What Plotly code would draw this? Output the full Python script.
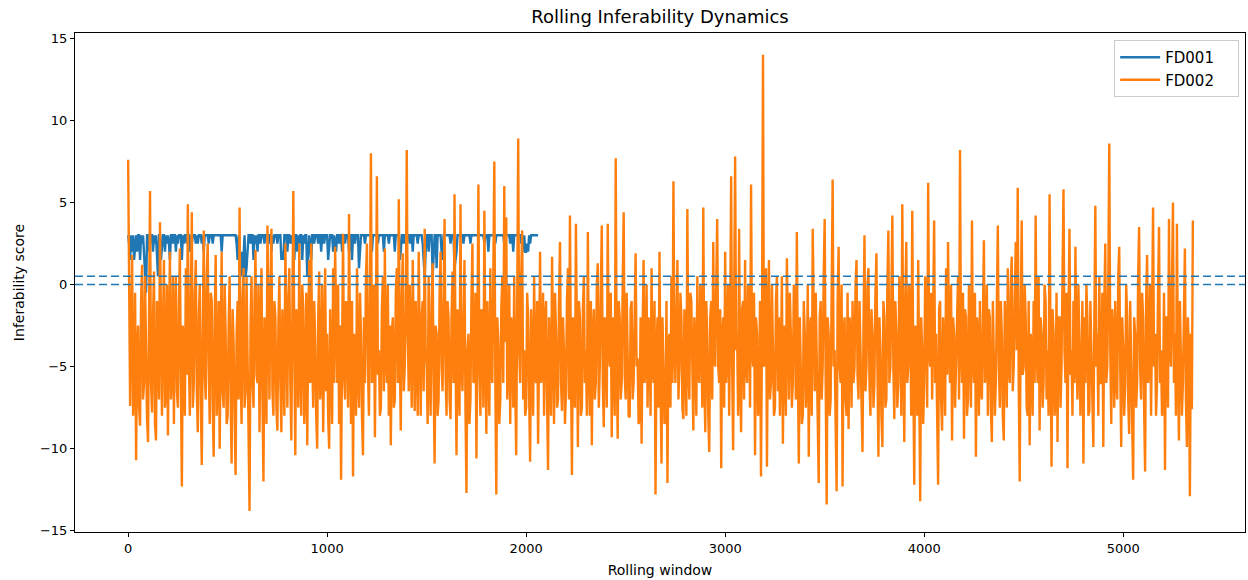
import numpy as np
import plotly.graph_objects as go

# sampling of the rolling windows for each series
STEP_FD001 = 5
STEP_FD002 = 5

# FD001 score per sampled window (windows 0..2060), one row per 100 windows
fd001 = [
    3, 2.5, 1.5, 3, 2, 3, 1.5, 2.5, 3, 2, 3, 3, 1.5, 3, 2.5, 3, 2, 1, -0.5, 3,
    3, 2, 2.5, 3, 3, 2, 3, 2.5, 3, 2, 0.5, 3, 3, 1.5, 2.5, 3, 3, 2, 3, 2.5,
    3, 2.5, 1.5, 3, 3, 2.5, 3, 3, 2, 3, 2.5, 3, 3, 3, 1.5, 3, 2.5, 3, 3, 2.5,
    3, 3, 2, 3, 2.5, 3, 3, 3, 2.5, 3, 2.5, 3, 3, 3, 2.5, 3, 2, 3, 3, 3,
    3, 2.5, 3, 3, 3, 2.5, 3, 3, 3, 3, 3, 3, 3, 3, 2, 3, 3, 3, 3, 3,
    3, 3, 3, 3, 3, 3, 3, 3, 3, 2.5, 1.5, 3, 1, 0.5, 2, 0.5, 1.5, 3, 0.5, 1,
    2, 3, 3, 2.5, 3, 3, 1.5, 3, 2.5, 3, 2, 3, 3, 2.5, 3, 3, 3, 2.5, 3, 3,
    3, 2.5, 3, 3, 2, 3, 2.5, 3, 3, 3, 2.5, 3, 3, 3, 1.5, 2, 1.5, 3, 3, 3,
    2, 3, 3, 2.5, 3, 2.5, 3, 1.5, 3, 3, 2, 3, 2.5, 3, 3, 1.5, 3, 2.5, 3, 3,
    0.5, 1.5, 3, 2.5, 1.5, 3, 3, 2.5, 3, 3, 3, 2.5, 3, 3, 2, 3, 3, 2.5, 3, 3,
    3, 1.5, 2.5, 3, 3, 3, 2, 3, 2.5, 2, 3, 3, 2.5, 3, 3, 2, 3, 3, 2.5, 3,
    3, 3, 2, 3, 3, 1.5, 3, 3, 2.5, 3, 3, 3, 1, 2.5, 3, 3, 3, 3, 2.5, 3,
    3, 3, 3, 3, 3, 2, 3, 3, 3, 3, 3, 2.5, 3, 3, 3, 3, 3, 2, 3, 3,
    3, 3, 2.5, 3, 3, 3, 3, 3, 2, 3, 3, 3, 3, 1.5, 2, 3, 3, 2.5, 3, 3,
    3, 3, 3, 2.5, 3, 3, 2, 3, 3, 3, 3, 2.5, 3, 3, 3, 3, 2.5, 1.5, 0.5, 2,
    3, 3, 2, 3, 3, 3, 0.5, 1.5, 3, 3, 1, 3, 3, 3, 3, 2, 1.5, 3, 3, 3,
    3, 3, 3, 3, 2.5, 3, 3, 3, 1, 1.5, 2, 3, 3, 3, 3, 3, 3, 2.5, 3, 3,
    3, 3, 3, 3, 2.5, 3, 3, 3, 3, 3, 3, 3, 3, 3, 3, 3, 3, 3, 2.5, 3,
    3, 3, 2, 3, 3, 3, 3, 3, 3, 2.5, 3, 3, 3, 3, 3, 3, 3, 3, 2.5, 3,
    3, 3, 3, 3, 2.5, 3, 3, 2, 3, 3, 3, 3, 3, 3, 3, 2.5, 3, 2, 3, 2,
    2, 2.5, 2, 3, 2.5, 3, 3, 3, 3, 3, 3, 3, 3,
]

# FD002 score per sampled window (windows 0..5350), one row per 100 windows
fd002 = [
    7.6, -2.0, -7.4, -3.0, 1.8, -8.0, -6.5, -0.5, -10.7, -4.0, -2.5, -7.5, -8.6, -1.0, 1.2, -7.0, -6.0, 0.5, -4.5, -8.2,
    -9.6, -1.5, 5.7, -6.0, -7.8, -2.0, 0.8, -8.5, -9.5, -1.0, -3.2, -7.0, 3.8, -5.0, -8.0, -2.5, 1.5, -7.5, -6.5, 0.0,
    -9.2, -3.0, 2.0, -7.0, -5.5, 0.5, -8.5, -2.0, 0.5, -6.5, -7.5, -1.5, 2.2, -6.0, -12.3, -2.5, -4.0, -8.0, 1.0, -5.5,
    4.9, -4.5, -8.0, -1.0, 4.4, -7.5, -6.0, -0.5, 1.5, -6.5, -9.0, -2.0, 0.0, -7.0, -11.0, -3.0, 3.3, -5.5, -7.0, 0.5,
    2.5, -5.0, -8.5, -0.5, -1.0, -7.5, -10.5, -2.0, 1.8, -8.0, -6.0, -1.0, -10.0, -4.0, 2.0, -6.5, -7.5, 0.0, -3.0, -8.5,
    -8.0, -2.5, 0.5, -7.0, -10.9, -1.5, -3.5, -8.0, -11.6, -3.0, -1.0, -7.0, 4.7, -5.0, -8.5, -1.0, 1.0, -7.5, -6.5, 0.5,
    -5.0, -9.0, -13.8, -2.5, 0.5, -6.0, -7.5, -1.0, 2.1, -5.5, -6.0, 0.0, -9.0, -3.0, 1.0, -7.0, -12.0, -2.0, -4.5, -8.5,
    3.6, -4.0, -7.0, -0.5, 3.4, -6.5, -8.0, -1.0, -2.0, -7.5, -8.9, -2.5, 0.5, -6.0, -9.0, -1.5, -4.0, -8.0, 2.5, -5.0,
    -7.5, -1.0, 1.0, -6.0, -9.5, -2.0, 5.7, -4.0, -10.4, -1.5, -3.0, -7.5, 2.5, -5.0, -8.0, 0.0, -1.5, -8.5, -6.5, -0.5,
    -9.8, -3.0, 1.5, -6.0, 2.5, -4.5, -7.5, -1.0, -3.5, -8.0, -10.0, -2.0, 0.8, -7.0, -6.0, 0.0, -9.0, -4.0, 1.0, -6.5,
    -3.0, -8.0, -10.0, -1.5, -5.0, -8.5, 1.0, -6.0, 2.3, -4.0, -6.0, 0.0, -8.5, -2.5, -11.9, -4.0, 3.1, -5.5, -7.0, -1.0,
    -2.0, -7.5, 4.3, -4.0, -8.5, -1.0, -11.7, -3.0, -4.0, -8.0, 1.0, -5.5, -7.5, -0.5, -3.0, -8.0, -10.4, -2.0, -6.0, 0.5,
    2.5, -5.0, -8.0, -1.0, 8.0, -6.0, -5.0, 0.0, -9.3, -2.0, 6.6, -5.5, -4.0, -8.0, -7.5, -1.5, 0.5, -6.5, 2.2, -4.5,
    -6.0, 0.0, -8.0, -2.5, -9.8, -3.0, -2.0, -7.5, -7.0, -0.5, 1.0, -6.0, 5.2, -4.0, -8.9, -1.0, 1.9, -6.5, -5.0, -1.5,
    8.2, -3.0, -6.5, 0.0, -3.0, -7.5, 1.5, -5.0, -7.7, -1.0, -4.5, -8.0, 2.0, -4.0, -8.0, -2.0, -1.0, -6.5, 3.4, -4.0,
    -5.0, -8.5, 0.5, -5.5, -8.0, -1.0, 1.3, -6.0, -10.9, -2.5, -3.0, -8.0, -7.0, -0.5, 2.0, -5.0, -6.5, -1.0, 4.0, -5.5,
    -8.0, -1.0, -2.0, -7.0, -8.2, -2.0, 0.8, -6.0, 5.5, -4.0, -10.4, -1.5, -4.0, -8.0, 4.9, -5.0, -6.5, -0.5, 1.5, -7.5,
    -12.7, -4.0, -3.0, -8.5, -7.0, -1.0, 2.5, -6.0, -5.5, -0.5, -10.6, -3.0, 6.1, -5.0, -8.0, -1.5, -2.0, -7.5, 4.5, -4.0,
    -9.1, -1.0, -4.0, -8.0, 1.0, -5.0, -6.0, 0.0, 7.5, -6.0, -12.8, -2.0, -3.5, -8.5, -7.0, -1.5, 0.5, -6.0, 6.0, -3.5,
    4.1, -7.0, -5.0, 0.0, -8.5, -2.0, -3.0, -7.5, 0.5, -6.0, -10.4, -1.0, 8.9, -4.0, -6.0, 0.5, 3.3, -7.0, -4.0, -8.0,
    -7.5, -0.5, -2.0, -7.0, -10.8, -1.5, -4.0, -8.0, 0.5, -5.5, -6.0, -1.0, -9.7, -3.0, 2.0, -6.0, -5.0, -0.5, -8.0, -2.0,
    -1.0, -7.0, -11.3, -2.0, -6.0, -8.0, 1.7, -4.5, -8.5, -0.5, -3.0, -7.5, -7.0, -1.0, 2.6, -6.0, -7.7, -2.0, -4.0, -8.5,
    -6.5, -1.0, 1.0, -7.0, 4.2, -5.0, -11.6, -2.0, -5.0, -7.5, 3.7, -4.0, -9.9, -1.0, -2.0, -8.0, -7.5, -1.5, 0.5, -6.0,
    -4.0, -8.0, 3.2, -5.0, -8.0, -1.0, -9.8, -3.0, -1.5, -7.0, -6.0, 0.0, 1.3, -7.5, -5.0, -0.5, 3.6, -6.0, -8.7, -2.0,
    -3.0, -7.5, 3.7, -4.0, -5.0, -0.5, -9.3, -2.0, -4.0, -8.0, 7.7, -5.0, -9.4, -1.0, -2.0, -7.0, -6.0, 0.0, 4.4, -5.5,
    -7.0, -0.5, -3.5, -8.0, -8.1, -1.5, -1.0, -7.0, -6.0, 0.0, 1.9, -5.0, -4.5, -8.5, -8.0, -2.0, -9.7, -3.0, 1.5, -6.0,
    -5.0, 0.0, -7.5, -2.0, -3.0, -8.0, 1.0, -5.0, -6.0, -1.0, -12.8, -4.0, -2.0, -7.5, 2.0, -6.0, -10.9, -2.0, -5.5, -8.5,
    -8.0, -1.0, -12.1, -3.5, -3.0, -7.5, 0.5, -6.0, 6.3, -4.0, -6.0, 0.0, 1.5, -7.0, -5.0, -0.5, -2.0, -7.5, -8.2, -1.5,
    -4.0, -8.0, 4.6, -5.0, -7.0, -0.5, -1.0, -7.0, -8.9, -2.0, -3.5, -8.0, 0.5, -5.0, -6.0, 0.0, -2.5, -7.5, 4.7, -5.5,
    -9.0, -1.0, -3.0, -8.0, -10.2, -2.0, -1.0, -7.0, 2.6, -4.5, -5.0, 0.0, 4.0, -5.0, -6.0, -1.5, -11.2, -3.0, -2.0, -7.5,
    2.0, -6.0, -4.0, 0.0, -8.0, -2.0, 6.6, -5.0, -10.1, -1.0, 7.8, -4.0, -3.0, -8.0, 3.4, -5.5, -9.0, -1.5, -1.0, -7.0,
    1.5, -5.0, -6.0, 0.0, -2.0, -7.5, 6.1, -4.0, -5.0, -0.5, -10.4, -2.0, -3.0, -8.0, -7.0, -1.0, -11.7, -3.0, 14.0, -5.0,
    -4.0, 1.0, -11.1, -2.0, 1.5, -7.0, -6.0, 0.0, -3.0, -8.0, -7.5, -1.0, 0.5, -6.5, -2.0, -8.0, -5.0, 0.5, -9.7, -2.5,
    -4.0, -8.0, 1.6, -4.5, -7.0, -0.5, -3.0, -7.5, -6.0, 0.0, -1.0, -7.0, 3.2, -5.0, -10.9, -2.0, -5.0, -8.5, -8.0, -1.0,
    -3.0, -7.5, -6.0, 0.0, -10.5, -3.0, -2.0, -8.0, 3.4, -4.0, -6.5, -0.5, -4.0, -8.0, -12.1, -2.0, -1.0, -7.0, -5.0, 0.5,
    4.0, -6.0, -13.4, -2.0, -3.0, -8.0, -7.0, -0.5, 6.4, -5.0, -4.0, -8.5, -12.6, -1.0, 2.3, -5.0, -6.0, 0.0, -12.3, -3.0,
    -2.0, -7.0, -8.0, -0.5, -8.8, -2.0, -3.0, -7.5, -1.0, -6.0, -5.0, 0.0, 1.5, -5.5, -7.0, -1.0, -4.0, -8.0, -10.2, -2.5,
    3.0, -6.5, -5.0, 0.0, 1.0, -6.0, -8.0, -1.5, -3.0, -7.5, -6.0, -0.5, 1.9, -5.0, -10.5, -2.0, -4.0, -8.0, -9.9, -1.0,
    -2.0, -7.5, -7.0, 0.0, 3.3, -6.0, -5.0, -0.5, 4.2, -5.0, -8.2, -1.0, -3.0, -7.5, -6.0, 0.5, -2.0, -8.0, 4.9, -4.0,
    -9.6, -1.0, 2.6, -6.0, -5.0, 0.0, -2.0, -8.0, 4.5, -5.0, -12.2, -2.5, -3.0, -8.0, 1.5, -6.0, -13.2, -2.0, -4.0, -8.5,
    -6.0, 0.5, -2.0, -7.5, 6.2, -4.0, -5.0, -0.5, -7.0, -2.0, 3.9, -6.0, -3.0, -8.0, -12.2, -1.5, -1.0, -7.0, -8.9, -2.0,
    -4.0, -8.0, 1.0, -5.5, 2.6, -4.0, -6.0, 0.0, -9.5, -2.0, -3.0, -7.5, -5.0, -1.0, 0.5, -7.0, 8.2, -4.0, -6.0, -0.5,
    -9.4, -1.5, -2.0, -8.0, -7.0, 0.0, -4.0, -7.5, 3.9, -4.5, -6.0, -0.5, -10.5, -2.0, -3.0, -8.0, -1.0, -6.5, -7.0, 0.5,
    2.7, -6.0, -5.0, 0.0, -8.0, -1.5, -2.0, -7.5, -9.6, -1.0, -4.0, -8.0, -6.0, -0.5, 3.6, -5.0, -7.5, -1.0, -3.0, -8.0,
    -9.5, -1.0, -3.0, -7.5, 1.0, -5.0, -6.0, 0.0, 1.7, -6.5, -5.0, -1.0, 2.6, -4.0, 5.9, -6.0, -12.0, -2.0, 3.9, -5.5,
    -5.0, 0.0, -2.0, -7.5, -8.0, -1.0, -9.8, -3.0, -4.0, -8.0, -1.0, -6.0, 4.2, -4.0, -6.0, 0.5, -8.9, -2.0, -3.0, -7.5,
    -6.0, 0.0, -1.0, -7.0, -4.0, -8.0, 5.5, -4.0, -11.1, -1.5, -3.0, -8.0, -7.0, -0.5, -9.6, -2.0, -2.0, -7.5, -5.0, 0.5,
    5.8, -4.0, -6.0, -0.5, -11.2, -2.0, 3.4, -5.5, -4.0, -8.0, -1.0, -6.0, 2.3, -4.0, -7.0, 0.0, -3.0, -8.0, -5.0, -1.0,
    -10.9, -2.0, -6.0, 0.0, -2.0, -8.0, -7.7, -1.0, -4.0, -7.5, -9.9, -2.0, 4.8, -5.0, -3.0, -8.0, 0.5, -6.0, -6.0, -0.5,
    -9.9, -1.0, 2.5, -6.0, -5.0, 0.0, 8.6, -4.0, -8.5, -1.5, -3.0, -7.5, -1.0, -6.0, -7.0, 0.5, 2.3, -5.0, -9.9, -2.0,
    -4.0, -8.0, -6.0, 0.0, -2.0, -7.0, -9.1, -1.0, -4.5, -8.0, -11.9, -2.0, -3.0, -7.5, -6.0, 0.5, 3.5, -5.0, -7.0, -0.5,
    -2.0, -7.5, -11.4, -1.0, 1.8, -6.0, -5.0, 0.0, -8.0, -2.0, 4.7, -5.0, -3.0, -8.0, -6.0, -0.5, 3.5, -6.0, -4.0, -8.0,
    -7.0, -0.5, -11.3, -2.0, -2.0, -7.5, 4.0, -4.0, -5.0, 0.0, 5.0, -6.0, -3.0, -8.0, 3.7, -5.0, -9.5, -1.0, -4.0, -8.0,
    -6.0, -0.5, 2.2, -7.0, -9.9, -2.0, -4.0, -12.9, -3.0, -7.6, 3.9,
]

thresholds = [0.0, 0.5]

x1 = np.arange(len(fd001)) * STEP_FD001
x2 = np.arange(len(fd002)) * STEP_FD002

# trailing no-break spaces give the legend box its right-hand padding
pad = "\u00a0" * 4

fig = go.Figure()
fig.add_trace(go.Scatter(x=x1, y=fd001, mode="lines", name="FD001" + pad,
                         line=dict(color="#1f77b4", width=2.4)))
fig.add_trace(go.Scatter(x=x2, y=fd002, mode="lines", name="FD002" + pad,
                         line=dict(color="#ff7f0e", width=2.4)))

for t in thresholds:
    fig.add_shape(type="line", xref="paper", x0=0, x1=1, yref="y", y0=t, y1=t,
                  line=dict(color="#1f77b4", width=1.5, dash="8px,4px"))

axis_style = dict(
    showline=True, linecolor="black", linewidth=1, mirror=True,
    ticks="outside", ticklen=4, tickcolor="black",
    showgrid=False, zeroline=False, automargin=False,
    tickfont=dict(size=13, color="black"),
)

fig.update_layout(
    width=1248, height=580,
    margin=dict(l=75, r=3, t=33, b=48),
    paper_bgcolor="white", plot_bgcolor="white",
    font=dict(family="DejaVu Sans", color="black"),
    title=dict(text="Rolling Inferability Dynamics", x=0.5, xanchor="center",
               xref="paper", y=1 - 17 / 580, yanchor="middle", font=dict(size=18)),
    xaxis=dict(range=[-267, 5612], tickvals=[0, 1000, 2000, 3000, 4000, 5000],
               title=dict(text="Rolling window", font=dict(size=14), standoff=10),
               **axis_style),
    yaxis=dict(range=[-15.08, 15.33], tickvals=[-15, -10, -5, 0, 5, 10, 15],
               title=dict(text="Inferability score", font=dict(size=14), standoff=12),
               **axis_style),
    legend=dict(x=0.995, y=0.986, xanchor="right", yanchor="top",
                bgcolor="rgba(255,255,255,0.8)", bordercolor="#cccccc", borderwidth=1,
                font=dict(size=15), itemwidth=40, tracegroupgap=0),
    showlegend=True,
)

# drop the default page margin so the figure sits at the window's corner
fig.write_html("out.html", config={"displayModeBar": False},
               post_script="document.body.style.margin='0px';")
